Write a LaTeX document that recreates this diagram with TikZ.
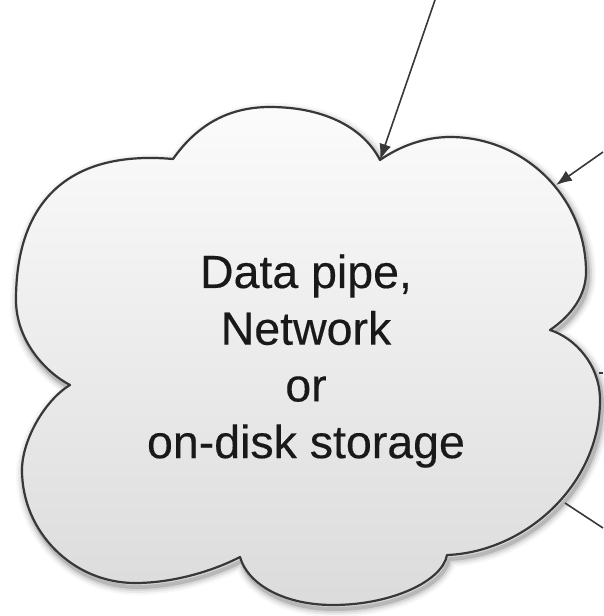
\documentclass[tikz,border=0pt]{standalone}
\usepackage{fontspec}
\setmainfont{Liberation Sans}[FakeBold=0.3]
\usetikzlibrary{arrows.meta}
\definecolor{edgecol}{gray}{0.22}
\tikzset{
  cloudline/.style={draw=edgecol, line width=2.2pt, line join=round},
  conn/.style={draw=edgecol, line width=1.6pt},
  head/.style={-{Latex[length=16pt,width=12pt]}},
  cloudfill/.style={top color=gray!3, bottom color=gray!28},
}
\def\cloudpath{(173,159)
 .. controls (195,128) and (225,107) .. (270,107)
 .. controls (320,107) and (362,125) .. (380,160)
 .. controls (400,146) and (425,137) .. (450,137)
 .. controls (525,137) and (586,198) .. (586,272)
 .. controls (586,295) and (572,315) .. (550,330)
 .. controls (575,338) and (600,365) .. (600,400)
 .. controls (600,485) and (525,552) .. (447,555)
 .. controls (442,582) and (390,605) .. (333,605)
 .. controls (285,605) and (248,585) .. (240,557)
 .. controls (215,570) and (175,583) .. (135,583)
 .. controls (73,583) and (22,532) .. (22,470)
 .. controls (22,440) and (45,400) .. (70,385)
 .. controls (45,372) and (16,340) .. (16,300)
 .. controls (16,200) and (70,150) .. (173,159)
 -- cycle}
\begin{document}
\begin{tikzpicture}[x=1pt,y=-1pt]
\useasboundingbox[fill=white] (0,0) rectangle (603,616);
% shadow
\begin{scope}[shift={(2,4)}]
\foreach \w/\o in {16/0.03,12/0.05,8/0.08,4/0.14}{
  \draw[line width=\w pt, draw=black, opacity=\o, line join=round] \cloudpath;
}
\end{scope}
% cloud
\path[cloudfill] \cloudpath;
\draw[cloudline] \cloudpath;
% label
\node[font=\fontsize{46.5}{56.7}\selectfont, align=center, inner sep=0pt, text=black!90] (lbl) at (306,361)
  {Data pipe,\\Network\\or\\on-disk storage};
% connectors
\coordinate (a1s) at (435,0);
\coordinate (a1e) at (380,160);
\coordinate (a2s) at (603,152);
\coordinate (a2e) at (556,185);
\coordinate (l3s) at (603,373);
\coordinate (l3e) at (599,373);
\coordinate (l4s) at (603,528);
\coordinate (l4e) at (565,503);
\draw[conn, head] (a1s) -- (a1e);
\draw[conn, head] (a2s) -- (a2e);
\draw[conn] (l3s) -- (l3e);
\draw[conn] (l4s) -- (l4e);
\end{tikzpicture}
\end{document}
